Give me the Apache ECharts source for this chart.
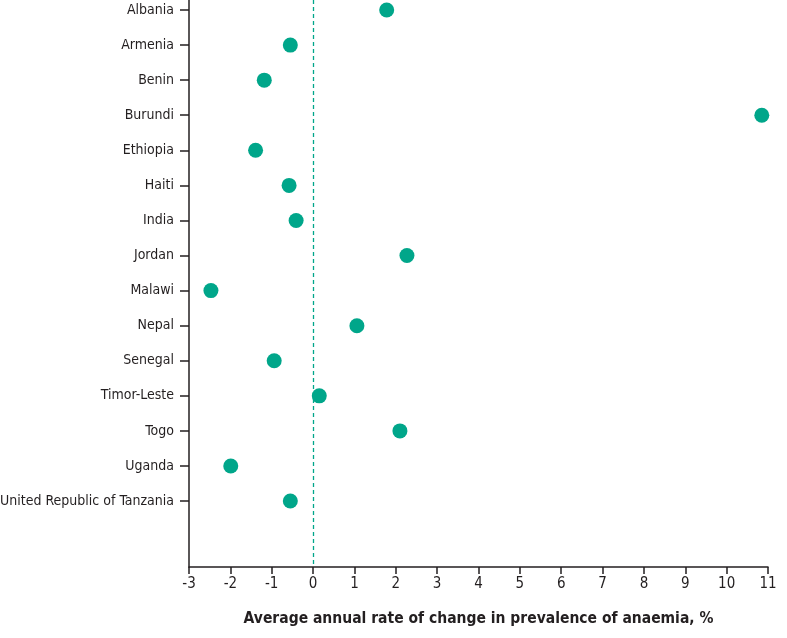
<!DOCTYPE html>
<html><head><meta charset="utf-8">
<script src="https://cdn.jsdelivr.net/npm/echarts@6/dist/echarts.min.js"></script>
<style>html,body{margin:0;padding:0;background:#fff}#c{width:787px;height:638px}</style>
</head><body><div id="c"></div>
<script>
const countries = ["Albania","Armenia","Benin","Burundi","Ethiopia","Haiti","India","Jordan","Malawi","Nepal","Senegal","Timor-Leste","Togo","Uganda","United Republic of Tanzania"];
const rates = [1.78,-0.55,-1.18,10.85,-1.39,-0.58,-0.41,2.27,-2.47,1.06,-0.94,0.15,2.10,-1.99,-0.55];
const xTicks = [-3,-2,-1,0,1,2,3,4,5,6,7,8,9,10,11];
const xTitle = "Average annual rate of change in prevalence of anaemia, %";

const FONT = "'DejaVu Sans Condensed','Liberation Sans Narrow',sans-serif";
const AX = '#231f20';
const GREEN = '#00a68a';
const idx = countries.map((c,i)=>i);

const chart = echarts.init(document.getElementById('c'), null, {renderer:'canvas'});
chart.setOption({
  animation:false,
  grid:{left:189,right:19,top:0,bottom:71,containLabel:false,outerBoundsMode:'none'},
  xAxis:{
    type:'value', min:-3, max:11, interval:1,
    name:xTitle, nameLocation:'middle', nameGap:44,
    nameTextStyle:{fontFamily:FONT,fontSize:15.5,fontWeight:'bold',color:AX},
    axisLine:{show:true,onZero:false,lineStyle:{color:AX,width:1.5}},
    axisTick:{show:true,length:7,inside:false,lineStyle:{color:AX,width:1.5}},
    axisLabel:{fontFamily:FONT,fontSize:15,color:AX,margin:10,
      customValues:xTicks},
    splitLine:{show:false}
  },
  yAxis:{
    type:'value', inverse:true, min:-0.285, max:15.88,
    axisLine:{show:true,onZero:false,lineStyle:{color:AX,width:1.5}},
    axisTick:{show:true,length:9,customValues:idx,lineStyle:{color:AX,width:1.5}},
    axisLabel:{fontFamily:FONT,fontSize:14,color:AX,margin:15,customValues:idx,
      formatter:v=>countries[Math.round(v)]},
    splitLine:{show:false}
  },
  series:[{
    type:'scatter',
    symbol:'circle', symbolSize:15,
    itemStyle:{color:GREEN,opacity:1},
    data:rates.map((r,i)=>[r,i]),
    markLine:{
      silent:true, symbol:'none', label:{show:false},
      lineStyle:{color:GREEN,type:[4,3],width:1.3},
      data:[{xAxis:0}]
    }
  }]
});
</script></body></html>
